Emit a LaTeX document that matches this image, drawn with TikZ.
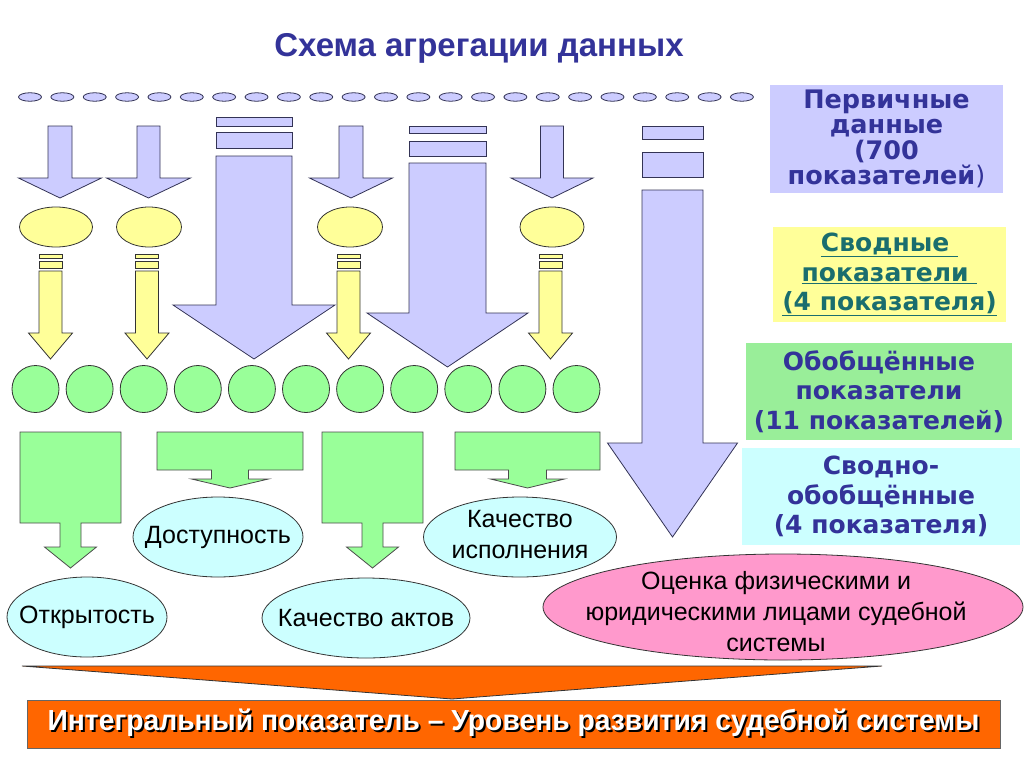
\documentclass[tikz,border=0pt]{standalone}
\usepackage{fontspec}
\setmainfont{Liberation Sans}
\newfontfamily\legfont{DejaVu Sans}
\usetikzlibrary{shapes.geometric}
\definecolor{lav}{HTML}{CCCCFF}
\definecolor{yel}{HTML}{FFFF99}
\definecolor{grn}{HTML}{99FF99}
\definecolor{cya}{HTML}{CCFFFF}
\definecolor{pnk}{HTML}{FF99CC}
\definecolor{org}{HTML}{FF6600}
\definecolor{navy}{HTML}{333399}
\definecolor{tealtx}{HTML}{1A6E6E}
\definecolor{edgec}{HTML}{333355}
\definecolor{legyel}{HTML}{FFFF99}
\definecolor{leggrn}{HTML}{99EE99}
\definecolor{legcya}{HTML}{CCFFFF}
\newcommand{\dnarrow}[7]{\draw[#1] ({#2-#3},#5) -- ({#2+#3},#5) -- ({#2+#3},#6) -- ({#2+#4},#6) -- (#2,#7) -- ({#2-#4},#6) -- ({#2-#3},#6) -- cycle;}
\newcommand{\callarrow}[9]{\draw[#1] (#2,#4) -- (#3,#4) -- (#3,#5) -- ({(#2+#3)/2+#6},#5) -- ({(#2+#3)/2+#6},#7) -- ({(#2+#3)/2+#8},#7) -- ({(#2+#3)/2},#9) -- ({(#2+#3)/2-#8},#7) -- ({(#2+#3)/2-#6},#7) -- ({(#2+#3)/2-#6},#5) -- (#2,#5) -- cycle;}
\newcommand{\shtext}[1]{\makebox[0pt][l]{\hspace{2pt}\raisebox{-2pt}{\color{black}#1}}#1}
\newcommand{\zw}[1]{\makebox[0pt]{#1}}
\begin{document}
\begin{tikzpicture}[x=1pt,y=-1pt,
  lavshape/.style={fill=lav,draw=edgec,line width=0.8pt},
  yelshape/.style={fill=yel,draw=black!80,line width=0.8pt},
  grnshape/.style={fill=grn,draw=black!70,line width=0.8pt},
  topell/.style={ellipse,fill=lav,draw=edgec,line width=0.8pt,minimum width=23pt,minimum height=8.5pt,inner sep=0pt},
  yelell/.style={ellipse,fill=yel,draw=black!80,line width=0.8pt,minimum height=40pt,inner sep=0pt},
  grncirc/.style={circle,fill=grn,draw=black!80,line width=0.8pt,minimum size=47pt,inner sep=0pt},
  bluell/.style={ellipse,fill=cya,draw=black!80,line width=0.8pt,minimum height=80pt,inner sep=0pt,font=\fontsize{25}{31}\selectfont},
  legbox/.style={inner sep=0pt,font=\legfont\bfseries\fontsize{25}{29.5}\selectfont,text=navy,align=center}
]
\useasboundingbox[fill=white] (0,0) rectangle (1024,768);
% title
\node[font=\bfseries\fontsize{33}{38}\selectfont,text=navy] (title) at (479,48) {Схема агрегации данных};
% top row of primary data ellipses
\foreach \i in {0,...,22} \node[topell] (p\i) at ({30+32.36*\i},97) {};
% small lavender arrows
\dnarrow{lavshape}{60}{12}{41.5}{126}{178}{198}
\dnarrow{lavshape}{148.5}{11.5}{42}{126}{178}{198}
\dnarrow{lavshape}{351}{12}{41.5}{126}{178}{198}
\dnarrow{lavshape}{552}{11.5}{41}{126}{178}{198}
% yellow ellipses
\node[yelell,minimum width=73pt] (y1) at (56,227) {};
\node[yelell,minimum width=65pt] (y2) at (149,227) {};
\node[yelell,minimum width=65pt] (y3) at (350,227) {};
\node[yelell,minimum width=64pt] (y4) at (552,227) {};
% yellow arrows with stripes
\foreach \c in {50.5,147,348.5,550.5}{
  \draw[yelshape] ({\c-11.5},254) rectangle ({\c+11.5},258);
  \draw[yelshape] ({\c-11.5},261) rectangle ({\c+11.5},268);
  \dnarrow{yelshape}{\c}{11.5}{22}{271}{333}{359}
}
% big lavender arrows with stripes
\draw[lavshape] (216,117) rectangle (292,126);
\draw[lavshape] (216,132) rectangle (292,148);
\dnarrow{lavshape}{254}{38}{81}{156}{305}{359}
\draw[lavshape] (409,126) rectangle (486,133);
\draw[lavshape] (409,141) rectangle (486,156);
\dnarrow{lavshape}{447.5}{38.5}{80.5}{163}{313}{367}
\draw[lavshape] (642,126) rectangle (703,139);
\draw[lavshape] (642,152) rectangle (703,177);
\dnarrow{lavshape}{672.5}{30.5}{65}{190}{443}{537}
% green circles
\foreach \i in {0,...,10} \node[grncirc] (g\i) at ({35.5+54.1*\i},389) {};
% green callout arrows
\callarrow{grnshape}{20}{121}{432}{523}{10.5}{547}{26}{568}
\callarrow{grnshape}{157}{303}{432}{470}{18.5}{479}{38.5}{488}
\callarrow{grnshape}{322}{423}{432}{523}{10.5}{547}{26}{568}
\callarrow{grnshape}{455}{600}{432}{470}{19}{479}{37}{488}
% blue ellipses
\node[bluell,minimum width=170pt] (dost) at (218,537) {\zw{Доступность}};
\node[bluell,minimum width=160pt] (otkr) at (87,617) {\zw{Открытость}};
\node[bluell,minimum width=208pt] (kact) at (366,618) {\zw{Качество актов}};
\node[bluell,minimum width=193pt,inner ysep=-4pt] (kisp) at (520,537) {\zw{\begin{tabular}{@{}c@{}}Качество\\исполнения\end{tabular}}};
% pink ellipse
\node[ellipse,fill=pnk,draw=black!80,line width=0.8pt,minimum width=480pt,minimum height=106pt,inner sep=0pt] (pink) at (783,607) {};
\node[font=\fontsize{25}{31}\selectfont,align=center,inner sep=0pt] (pinktext) at (776,612) {Оценка физическими и\\юридическими лицами судебной\\системы};
% legend boxes
\node[legbox,fill=lav,minimum width=233pt,minimum height=108pt,font=\legfont\bfseries\fontsize{25.5}{25.3}\selectfont] (leg1) at (886.5,139) {Первичные\\данные\\(700\\показателей{\mdseries)}};
\node[legbox,fill=legyel,minimum width=233pt,minimum height=95pt,text=tealtx] (leg2) at (889.5,274.5) {\underline{Сводные\ }\\\underline{показатели\ }\\\underline{(4 показателя)}};
\node[legbox,fill=leggrn,minimum width=266pt,minimum height=97pt] (leg3) at (879,391.5) {Обобщённые\\показатели\\(11 показателей)};
\node[legbox,fill=legcya,minimum width=278pt,minimum height=97pt] (leg4) at (881,496.5) {Сводно-\\обобщённые\\(4 показателя)};
% bottom wedge and integral indicator
\draw[fill=org,draw=black!80,line width=0.8pt] (22,666) -- (882,666) -- (452,699) -- cycle;
\node[fill=org,draw=black!60,line width=0.8pt,minimum width=973pt,minimum height=48pt,inner sep=0pt,text=white,font=\bfseries\fontsize{29}{31}\selectfont] (integral) at (513.5,724) {\scalebox{0.975}[1]{\shtext{Интегральный показатель – Уровень развития судебной системы}}};
\end{tikzpicture}
\end{document}
